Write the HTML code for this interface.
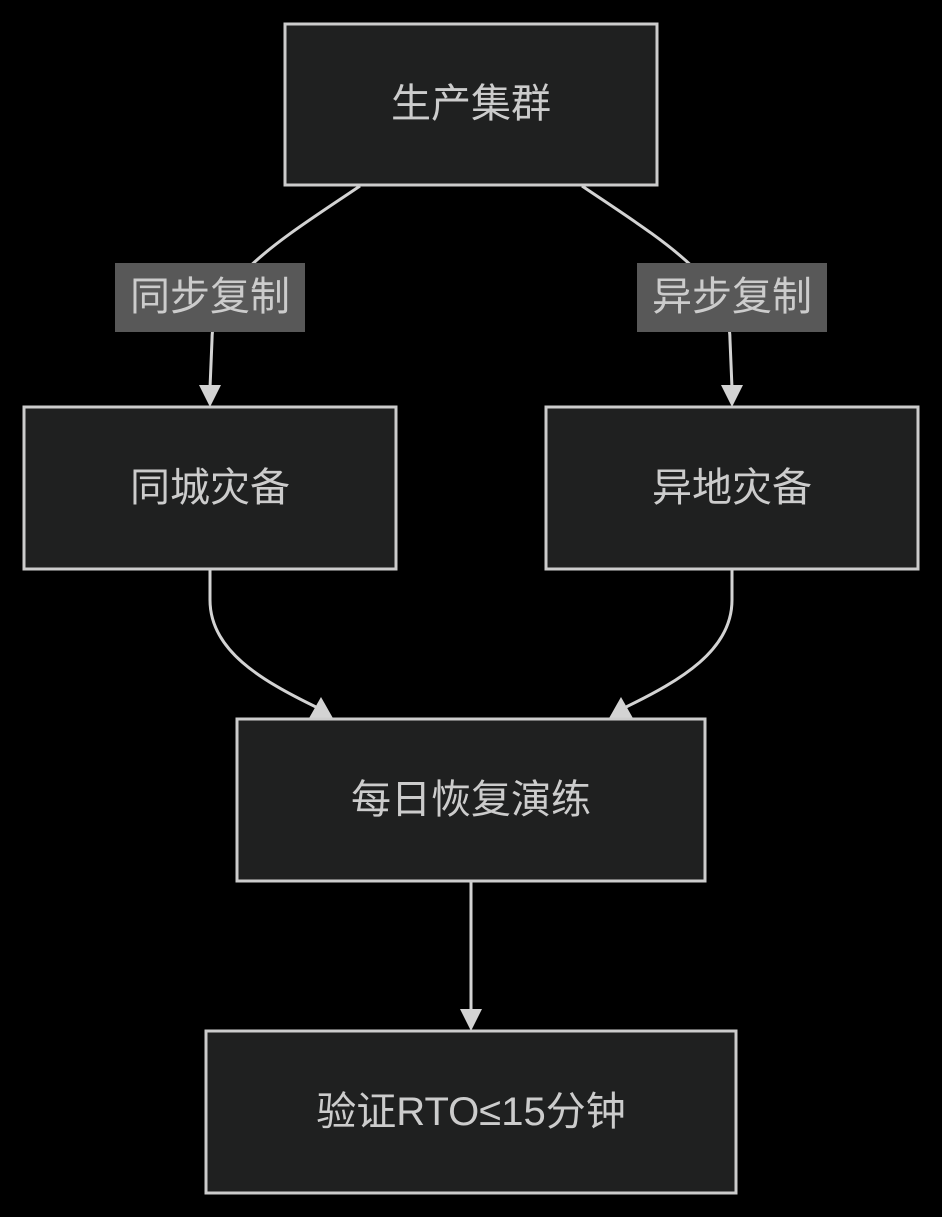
<!DOCTYPE html>
<html><head><meta charset="utf-8"><style>
html,body{margin:0;padding:0;background:#000;}
svg{display:block}
text{font-family:"Liberation Sans","Noto Sans CJK SC",sans-serif;font-size:40px;fill:#ccc;text-anchor:middle;dominant-baseline:central}
</style></head><body>
<svg width="942" height="1217" viewBox="0 0 942 1217">
<g fill="none" stroke="#d3d3d3" stroke-width="3">
<path d="M360,186 C280,240 212,280 212,340 L210,388"/>
<path d="M582,186 C662,240 730,280 730,340 L732,388"/>
<path d="M210,569 L210,600 C210,650 260,680 318,708"/>
<path d="M732,569 L732,600 C732,650 682,680 624,708"/>
<path d="M471,881 L471,1012"/>
</g>
<g fill="#d3d3d3">
<polygon d="" points="199,385 221,385 210,407"/>
<polygon points="721,385 743,385 732,407"/>
<polygon points="308,720 334,720 321,697"/>
<polygon points="608,720 634,720 621,697"/>
<polygon points="460,1009 482,1009 471,1031"/>
</g>
<g fill="#1f2020" stroke="#ccc" stroke-width="3">
<rect x="285" y="24" width="372" height="161"/>
<rect x="24" y="407" width="372" height="162"/>
<rect x="546" y="407" width="372" height="162"/>
<rect x="237" y="719" width="468" height="162"/>
<rect x="206" y="1031" width="530" height="162"/>
</g>
<rect x="115" y="263" width="190" height="69" fill="#585858"/>
<rect x="637" y="263" width="190" height="69" fill="#585858"/>
<text x="471" y="104">生产集群</text>
<text x="210" y="488">同城灾备</text>
<text x="732" y="488">异地灾备</text>
<text x="471" y="800">每日恢复演练</text>
<text x="471" y="1112">验证RTO≤15分钟</text>
<text x="210" y="297">同步复制</text>
<text x="732" y="297">异步复制</text>
</svg>
</body></html>
